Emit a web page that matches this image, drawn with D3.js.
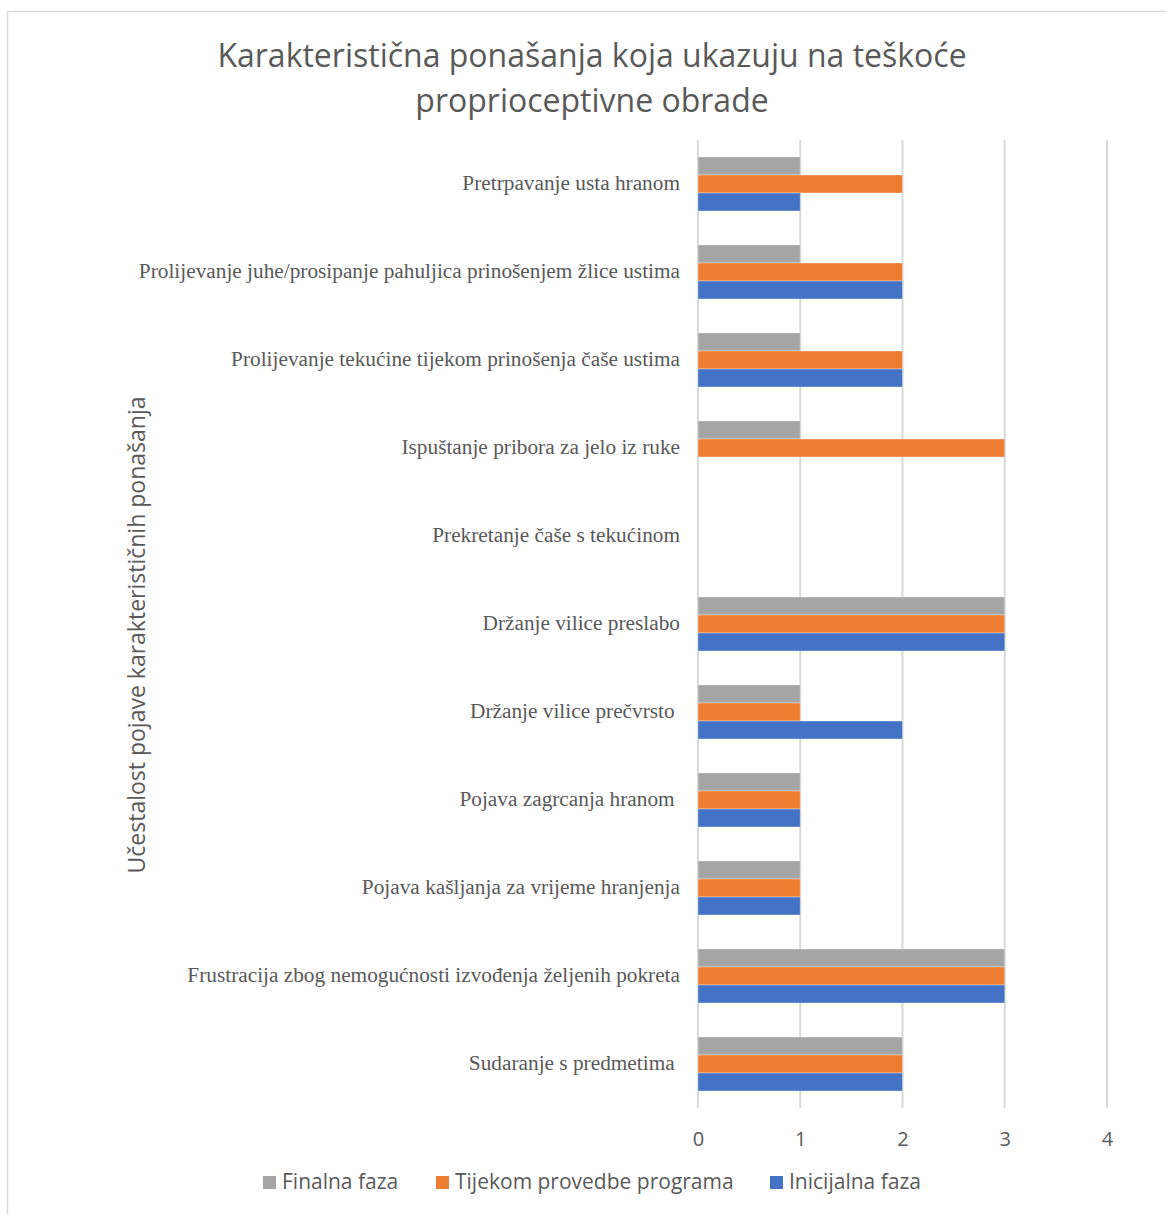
<!DOCTYPE html>
<html>
<head>
<meta charset="utf-8">
<script src="https://cdn.jsdelivr.net/npm/d3@7"></script>
<style>
  body { margin: 0; background: #fff; }
  svg text { white-space: pre; }
</style>
</head>
<body>
<div id="vis"></div>
<script>
// categories, top to bottom as drawn
let categories = [
  "Pretrpavanje usta hranom",
  "Prolijevanje juhe/prosipanje pahuljica prinošenjem žlice ustima",
  "Prolijevanje tekućine tijekom prinošenja čaše ustima",
  "Ispuštanje pribora za jelo iz ruke",
  "Prekretanje čaše s tekućinom",
  "Držanje vilice preslabo",
  "Držanje vilice prečvrsto ",
  "Pojava zagrcanja hranom ",
  "Pojava kašljanja za vrijeme hranjenja",
  "Frustracija zbog nemogućnosti izvođenja željenih pokreta",
  "Sudaranje s predmetima "
];

let finalnaFaza = [1, 1, 1, 1, 0, 3, 1, 1, 1, 3, 2];
let tijekomProvedbe = [2, 2, 2, 3, 0, 3, 1, 1, 1, 3, 2];
let inicijalnaFaza = [1, 2, 2, 0, 0, 3, 2, 1, 1, 3, 2];

let seriesNames = ["Finalna faza", "Tijekom provedbe programa", "Inicijalna faza"];
let tickValues = [0, 1, 2, 3, 4];

let colors = ["#a5a5a5", "#ed7d31", "#4472c4"];

let W = 1166, H = 1214;
let margin = { top: 140, left: 698, right: 59, bottom: 106 };
let width = W - margin.left - margin.right,
    height = H - margin.top - margin.bottom;

let svg = d3.select('#vis')
  .append('svg')
  .attr('width', W)
  .attr('height', H);

// chart border (top and left edges visible in the crop)
svg.append('rect')
  .attr('x', 7.5).attr('y', 11.5)
  .attr('width', W + 20).attr('height', H + 20)
  .attr('fill', 'none')
  .attr('stroke', '#d9d9d9')
  .attr('stroke-width', 1.5);

// title
let title = svg.append('text')
  .attr('text-anchor', 'middle')
  .attr('fill', '#595959')
  .style('font-family', 'Open Sans, sans-serif')
  .style('font-size', '32px');
title.append('tspan').attr('x', 592).attr('y', 67)
  .text('Karakteristična ponašanja koja ukazuju na teškoće');
title.append('tspan').attr('x', 592).attr('y', 112)
  .text('proprioceptivne obrade');

let g = svg.append('g')
  .attr('transform', `translate(${margin.left},${margin.top})`);

let x = d3.scaleLinear()
  .domain([0, 4])
  .range([0, 409]);

let y = d3.scaleBand()
  .domain(categories)
  .range([0, height])
  .paddingInner(0.386)
  .paddingOuter(0.193);

let ySub = d3.scaleBand()
  .domain(seriesNames)
  .range([0, y.bandwidth()]);

// gridlines
g.selectAll('.grid')
  .data(tickValues)
  .enter()
  .append('line')
  .attr('class', 'grid')
  .attr('x1', d => x(d)).attr('x2', d => x(d))
  .attr('y1', 0).attr('y2', height)
  .attr('stroke', '#d9d9d9')
  .attr('stroke-width', 2);

// x tick labels
let xAxis = g.append('g')
  .attr('transform', `translate(0, ${height})`)
  .call(d3.axisBottom(x).tickValues(tickValues).tickSize(0).tickPadding(24).tickFormat(d3.format('d')));
xAxis.select('.domain').remove();
xAxis.selectAll('text')
  .attr('fill', '#595959')
  .style('font-family', 'Open Sans, sans-serif')
  .style('font-size', '20px');

// bars
let seriesData = [finalnaFaza, tijekomProvedbe, inicijalnaFaza];
let rows = [];
categories.forEach((c, i) => {
  seriesNames.forEach((s, j) => {
    rows.push({ cat: c, series: s, value: seriesData[j][i], color: colors[j] });
  });
});

g.selectAll('.bar')
  .data(rows.filter(d => d.value > 0))
  .enter()
  .append('rect')
  .attr('class', 'bar')
  .attr('x', x(0))
  .attr('y', d => y(d.cat) + ySub(d.series))
  .attr('width', d => x(d.value) - x(0))
  .attr('height', ySub.bandwidth())
  .attr('fill', d => d.color)
  .attr('stroke', '#ffffff')
  .attr('stroke-opacity', 0.35)
  .attr('stroke-width', 1);

// category labels
g.selectAll('.cat')
  .data(categories)
  .enter()
  .append('text')
  .attr('class', 'cat')
  .attr('x', -18)
  .attr('y', d => y(d) + y.bandwidth() / 2)
  .attr('dy', '0.3em')
  .attr('text-anchor', 'end')
  .attr('fill', '#595959')
  .style('font-family', 'Liberation Serif, Times New Roman, serif')
  .style('font-size', '21.3px')
  .text(d => d);

// y axis title
svg.append('text')
  .attr('transform', 'translate(145, 635) rotate(-90)')
  .attr('text-anchor', 'middle')
  .attr('fill', '#595959')
  .style('font-family', 'Open Sans, sans-serif')
  .style('font-size', '23px')
  .text('Učestalost pojave karakterističnih ponašanja');

// legend
let legendX = [263, 436, 770];
let legend = svg.selectAll('.legend')
  .data(seriesNames)
  .enter()
  .append('g')
  .attr('class', 'legend')
  .attr('transform', (d, i) => `translate(${legendX[i]}, 1182)`);
legend.append('rect')
  .attr('x', 0).attr('y', -6)
  .attr('width', 13).attr('height', 13)
  .attr('fill', (d, i) => colors[i]);
legend.append('text')
  .attr('x', 19).attr('y', 0)
  .attr('dy', '0.35em')
  .attr('fill', '#595959')
  .style('font-family', 'Open Sans, sans-serif')
  .style('font-size', '21px')
  .text(d => d);
</script>
</body>
</html>
